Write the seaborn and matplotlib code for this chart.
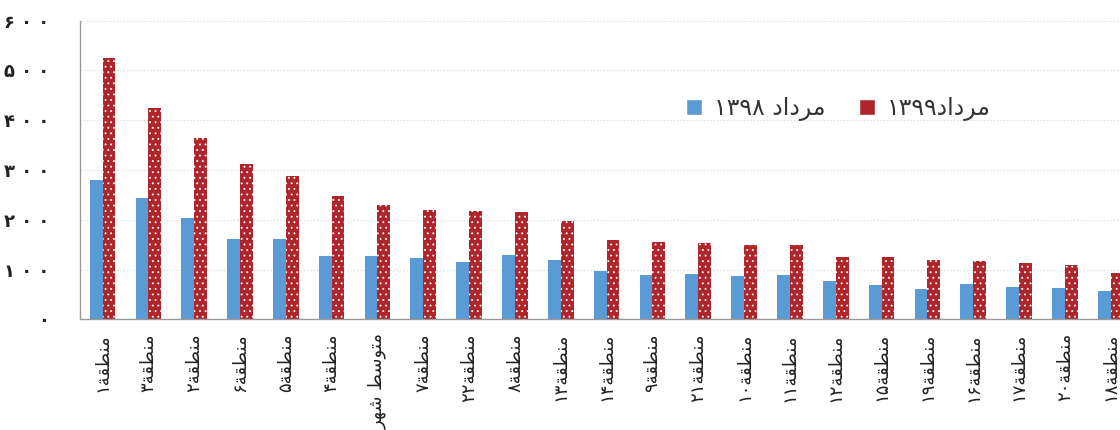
import pandas as pd
import seaborn as sns
import matplotlib.pyplot as plt
from matplotlib.ticker import FixedLocator

# Tehran districts, Mordad 1398 vs Mordad 1399
regions = ['منطقة۱', 'منطقة۳', 'منطقة۲', 'منطقة۶', 'منطقة۵', 'منطقة۴', 'متوسط شهر',
           'منطقة۷', 'منطقة۲۲', 'منطقة۸', 'منطقة۱۳', 'منطقة۱۴', 'منطقة۹', 'منطقة۲۱',
           'منطقة۱۰', 'منطقة۱۱', 'منطقة۱۲', 'منطقة۱۵', 'منطقة۱۹', 'منطقة۱۶', 'منطقة۱۷',
           'منطقة۲۰', 'منطقة۱۸']
vals_1398 = [280, 244, 203, 162, 162, 128, 128, 123, 115, 130, 120, 97, 89, 92,
             87, 89, 77, 68, 61, 71, 65, 63, 57]
vals_1399 = [526, 424, 365, 312, 287, 247, 229, 220, 218, 216, 198, 159, 156, 154,
             149, 149, 125, 125, 120, 117, 113, 110, 94]
series_names = ['مرداد ۱۳۹۸', 'مرداد۱۳۹۹']
yticks = [0, 100, 200, 300, 400, 500, 600]

# --- tiny arabic shaping (matplotlib has no bidi / joining) ---
FORMS = {
    'م': 'ﻡﻢﻣﻤ', 'ن': 'ﻥﻦﻧﻨ', 'ط': 'ﻁﻂﻃﻄ', 'ق': 'ﻕﻖﻗﻘ', 'ت': 'ﺕﺖﺗﺘ',
    'س': 'ﺱﺲﺳﺴ', 'ش': 'ﺵﺶﺷﺸ', 'ه': 'ﻩﻪﻫﻬ',
    'ة': 'ﺓﺔ', 'و': 'ﻭﻮ', 'ر': 'ﺭﺮ', 'د': 'ﺩﺪ', 'ا': 'ﺍﺎ',
}
FA_DIGITS = '۰۱۲۳۴۵۶۷۸۹'


def shape(text):
    out = []
    for i, ch in enumerate(text):
        if ch not in FORMS:
            out.append(ch)
            continue
        prev = text[i - 1] if i > 0 else ''
        nxt = text[i + 1] if i + 1 < len(text) else ''
        j_prev = prev in FORMS and len(FORMS[prev]) == 4
        j_next = len(FORMS[ch]) == 4 and nxt in FORMS
        f = FORMS[ch]
        if j_prev and j_next:
            out.append(f[3])
        elif j_next:
            out.append(f[2])
        elif j_prev:
            out.append(f[1])
        else:
            out.append(f[0])
    # visual order: reverse everything, then put digit runs back left-to-right
    rev = ''.join(out)[::-1]
    res, run = '', ''
    for ch in rev:
        if ch in FA_DIGITS:
            run += ch
        else:
            res += run[::-1] + ch
            run = ''
    return res + run[::-1]


def fa_num(n):
    return ' '.join(FA_DIGITS[int(d)] for d in str(n))


df = pd.DataFrame({
    'region': regions * 2,
    'value': vals_1398 + vals_1399,
    'year': [series_names[0]] * len(regions) + [series_names[1]] * len(regions),
})

blue = '#5B9BD5'
red = '#AE262B'

sns.set_style('white')
plt.rcParams['font.family'] = ['DejaVu Sans']
plt.rcParams['hatch.linewidth'] = 0.6

fig = plt.figure(figsize=(11.2, 4.3), dpi=100)
ax = fig.add_axes([0.0711, 0.2574, 0.941, 0.6944])

sns.barplot(data=df, x='region', y='value', hue='year', order=regions,
            hue_order=series_names, palette=[blue, red], width=0.56,
            saturation=1, ax=ax, legend=True)

# white dotted pattern on the 1399 bars
for bar in ax.containers[1]:
    bar.set_hatch('...')
    bar.set_edgecolor('white')
    bar.set_linewidth(0)
for bar in ax.containers[0]:
    bar.set_linewidth(0)

ax.set_ylim(0, 600)
ax.set_xlim(-0.5, len(regions) - 0.5)
ax.set_yticks(yticks)
ax.set_yticklabels([fa_num(v) for v in yticks], fontsize=13, fontweight='bold',
                   color='#222222')
ax.tick_params(axis='y', length=8, width=1, color='#999999', pad=14, direction='out')
ax.yaxis.grid(True, linestyle=(0, (1, 2)), color='#C9DAEA', linewidth=0.8)
ax.set_axisbelow(True)

ax.set_xticks(range(len(regions)))
ax.set_xticklabels([shape(r) for r in regions], rotation=90, fontsize=13,
                   color='#222222', va='top')
ax.tick_params(axis='x', which='major', length=0, pad=10)
ax.xaxis.set_minor_locator(FixedLocator([i - 0.5 for i in range(len(regions) + 1)]))
ax.tick_params(axis='x', which='minor', length=7, width=1, color='#999999',
               direction='out')

ax.set_xlabel('')
ax.set_ylabel('')
for side in ['top', 'right']:
    ax.spines[side].set_visible(False)
for side in ['left', 'bottom']:
    ax.spines[side].set_color('#999999')
    ax.spines[side].set_linewidth(1)

handles, labels = ax.get_legend_handles_labels()
ax.legend(handles, [shape(l) for l in labels], ncol=2, frameon=False,
          loc='center', bbox_to_anchor=(0.72, 0.705), fontsize=17,
          handlelength=0.7, handleheight=0.7, handletextpad=0.5,
          columnspacing=1.4, labelcolor='#333333')

fig.savefig('out.png', dpi=100)
